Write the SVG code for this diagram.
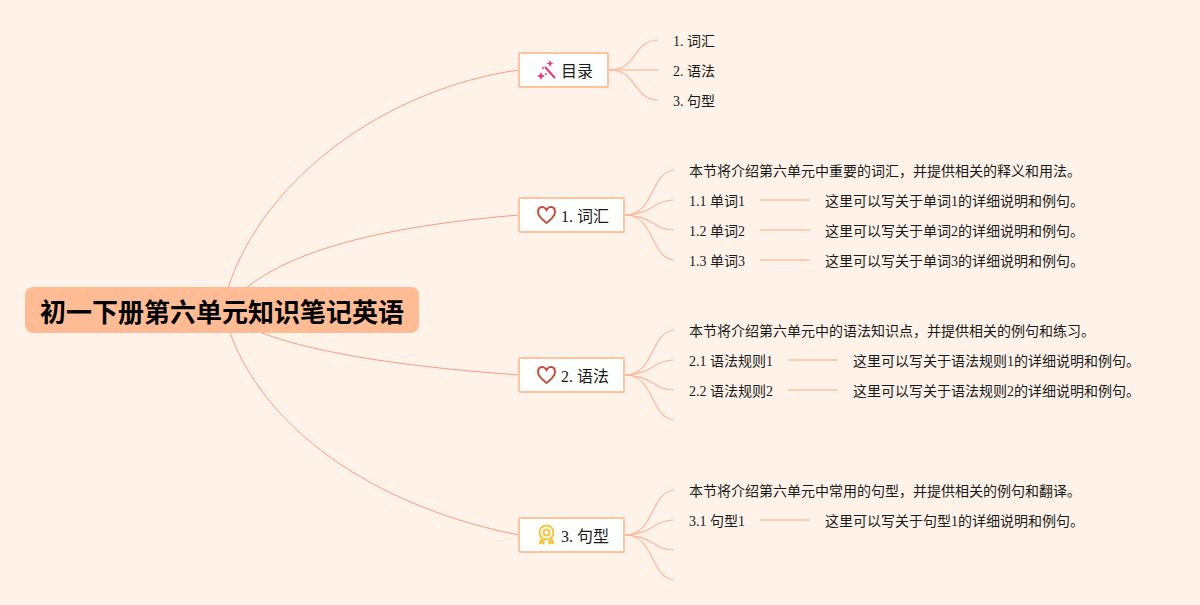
<svg xmlns="http://www.w3.org/2000/svg" width="1200" height="605" viewBox="0 0 1200 605">
<style>
text{font-family:"Liberation Serif","Noto Sans CJK SC",serif;fill:#1a1a1a;font-size:14px}
.t{font-size:16px}
.root{font-family:"Liberation Sans","Noto Sans CJK SC",sans-serif;font-size:26px;font-weight:700;fill:#000}
.box{fill:#fff;stroke:#ffc39e;stroke-width:2}
.c1{fill:none;stroke:#fa9a80;stroke-width:1}
.c2{fill:none;stroke:#fdb69c;stroke-width:1.200}
.h{fill:none;stroke:#ffc0a0;stroke-width:1.500}
</style>
<rect width="1200" height="605" fill="#fff2e8"/>
<g id="connectors">
<path class="c1" d="M228 288C265 175 390 88 519 70"/>
<path class="c1" d="M246 288C300 245 400 225 519 215"/>
<path class="c1" d="M262 333C320 355 420 368 519 375"/>
<path class="c1" d="M230 333C270 440 390 510 519 535"/>
<path class="c2" d="M609 70C638 70 632 41 658 40"/>
<path class="h" d="M609 70H658"/>
<path class="c2" d="M609 70C638 70 632 99 658 100"/>
<path class="c2" d="M625 215C655 215 650 172 674 170"/>
<path class="c2" d="M625 215C650 215 655 200 674 200"/>
<path class="c2" d="M625 215C650 215 655 230 674 230"/>
<path class="c2" d="M625 215C655 215 650 258 674 260"/>
<path class="c2" d="M625 375C655 375 650 332 674 330"/>
<path class="c2" d="M625 375C650 375 655 360 674 360"/>
<path class="c2" d="M625 375C650 375 655 390 674 390"/>
<path class="c2" d="M625 375C655 375 650 418 674 420"/>
<path class="c2" d="M625 535C655 535 650 492 674 490"/>
<path class="c2" d="M625 535C650 535 655 520 674 520"/>
<path class="c2" d="M625 535C650 535 655 550 674 550"/>
<path class="c2" d="M625 535C655 535 650 578 674 580"/>
<path class="h" d="M760 200H810M760 230H810M760 260H810M788 360H838M788 390H838M760 520H810"/>
</g>
<g id="root"><rect x="25" y="287" width="394" height="46" rx="8" fill="#ffbc94"/><text class="root" x="40" y="322">初一下册第六单元知识笔记英语</text></g>
<g id="n0"><rect class="box" x="519" y="53" width="89" height="34" rx="1"/>
<path d="M545 67L555 78" stroke="#e8357c" stroke-width="2" fill="none"/>
<g fill="#e8357c"><path d="M550 60l1 2.500 2.500 1-2.500 1-1 2.500-1-2.500-2.500-1 2.500-1zM541 72l1.200 2.800 2.800 1.200-2.800 1.200-1.200 2.800-1.200-2.800-2.800-1.200 2.800-1.200z"/><circle cx="546" cy="74" r="1"/><circle cx="543" cy="68" r="1"/></g>
<text class="t" x="561" y="77">目录</text></g>
<g id="n1"><rect class="box" x="519" y="198" width="105" height="34" rx="1"/>
<path d="M546.500 223C540 218 538 215 538 212C538 206 544 205.500 546.500 210C549 205.500 555 206 555 212C555 215 553 218 546.500 223Z" fill="none" stroke="#c4513f" stroke-width="2"/>
<text class="t" x="561" y="222">1. 词汇</text></g>
<g id="n2"><rect class="box" x="519" y="358" width="105" height="34" rx="1"/>
<path d="M546.500 383C540 378 538 375 538 372C538 366 544 365.500 546.500 370C549 365.500 555 366 555 372C555 375 553 378 546.500 383Z" fill="none" stroke="#c4513f" stroke-width="2"/>
<text class="t" x="561" y="382">2. 语法</text></g>
<g id="n3"><rect class="box" x="519" y="518" width="105" height="34" rx="1"/>
<g fill="none" stroke="#f3c63f" stroke-width="2"><circle cx="546.500" cy="532.500" r="7"/><circle cx="546.500" cy="532.500" r="3"/></g>
<g fill="#f3c63f"><path d="M541 538L543 540L545 541L544 545L541.500 543.500L538.500 544.500L539 542Z"/><path d="M552 538L550 540L548 541L549 545L551.500 543.500L554.500 544.500L554 542Z"/></g>
<text class="t" x="561" y="542">3. 句型</text></g>
<g id="t0"><text x="673" y="46">1. 词汇</text></g>
<g id="t1"><text x="673" y="76">2. 语法</text></g>
<g id="t2"><text x="673" y="106">3. 句型</text></g>
<g id="a0"><text x="689" y="176">本节将介绍第六单元中重要的词汇，并提供相关的释义和用法。</text></g>
<g id="a1"><text x="689" y="206">1.1 单词1</text></g>
<g id="a2"><text x="825" y="206">这里可以写关于单词1的详细说明和例句。</text></g>
<g id="a3"><text x="689" y="236">1.2 单词2</text></g>
<g id="a4"><text x="825" y="236">这里可以写关于单词2的详细说明和例句。</text></g>
<g id="a5"><text x="689" y="266">1.3 单词3</text></g>
<g id="a6"><text x="825" y="266">这里可以写关于单词3的详细说明和例句。</text></g>
<g id="b0"><text x="689" y="336">本节将介绍第六单元中的语法知识点，并提供相关的例句和练习。</text></g>
<g id="b1"><text x="689" y="366">2.1 语法规则1</text></g>
<g id="b2"><text x="853" y="366">这里可以写关于语法规则1的详细说明和例句。</text></g>
<g id="b3"><text x="689" y="396">2.2 语法规则2</text></g>
<g id="b4"><text x="853" y="396">这里可以写关于语法规则2的详细说明和例句。</text></g>
<g id="c0"><text x="689" y="496">本节将介绍第六单元中常用的句型，并提供相关的例句和翻译。</text></g>
<g id="c1"><text x="689" y="526">3.1 句型1</text></g>
<g id="c2"><text x="825" y="526">这里可以写关于句型1的详细说明和例句。</text></g>
</svg>
